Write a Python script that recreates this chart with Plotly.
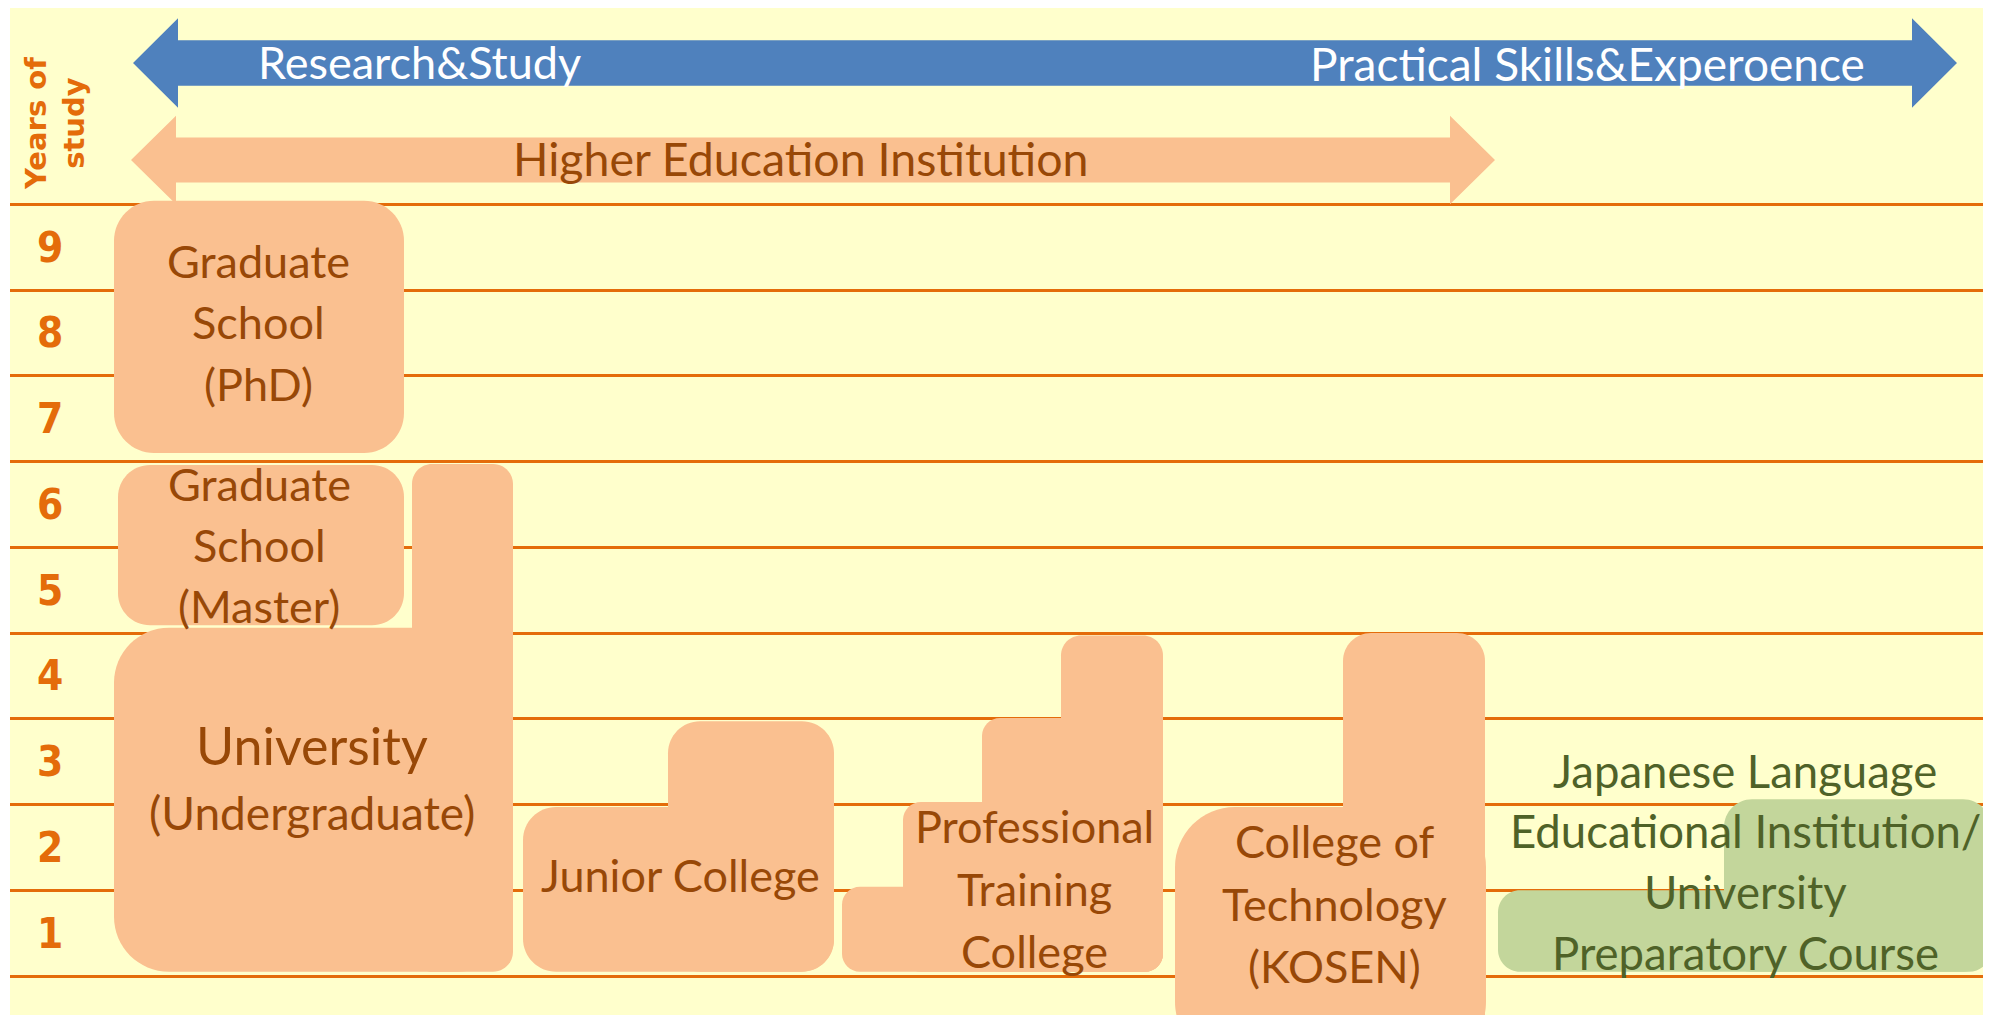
import plotly.graph_objects as go

# ---------------- data (years of study) ----------------
year_ticks = [1, 2, 3, 4, 5, 6, 7, 8, 9]
tick_labels = ["1", "2", "3", "4", "5", "6", "7", "8", "9"]
grid_years = [0, 1, 2, 3, 4, 5, 6, 7, 8, 9]

# blocks: (program, start year, end year)
block_program = ["PhD", "Master", "University", "University",
                 "Junior", "Junior",
                 "Professional", "Professional", "Professional", "Professional",
                 "KOSEN", "KOSEN",
                 "Japanese", "Japanese"]
block_start = [6.10, 4.09, 0.05, 0.05,
               0.05, 0.05,
               0.05, 0.05, 0.05, 0.05,
               -1.0, -1.0,
               0.05, 0.05]
block_end = [9.04, 5.96, 4.06, 5.97,
             1.97, 2.97,
             1.04, 2.03, 3.01, 3.97,
             1.97, 4.00,
             1.00, 2.06]

label_phd = ["Graduate", "School", "(PhD)"]
label_master = ["Graduate", "School", "(Master)"]
label_univ = ["University", "(Undergraduate)"]
label_junior = ["Junior College"]
label_prof = ["Professional", "Training", "College"]
label_kosen = ["College of", "Technology", "(KOSEN)"]
label_jp = ["Japanese Language", "Educational Institution/", "University", "Preparatory Course"]
arrow_labels = ["Research&Study", "Practical Skills&Experoence", "Higher Education Institution"]
axis_title = ["Years of", "study"]

# ---------------- layout / style ----------------
PAGE_W, PAGE_H = 1991, 1015
OFF = 8          # default body margin of the html page
W, H = PAGE_W - OFF, PAGE_H - OFF
PXY = 85.75      # pixels per year
BASE = 976.0     # page pixel row of year 0


def yr(px):
    return (BASE - px) / PXY


ORANGE_FILL = "#FAC090"
BROWN = "#984807"
LINE_OR = "#E46C0A"
BLUE = "#4F81BD"
GREEN = "#C3D69B"
GREEN_TXT = "#4F6228"
YELLOW = "#FFFFCC"
FONT = "Lato, 'Open Sans', sans-serif"

block_x = [(114, 404), (118, 404), (114, 513), (412, 513),
           (523, 834), (668, 834),
           (842, 1163), (903, 1163), (982, 1163), (1061, 1163),
           (1175, 1486), (1343, 1485),
           (1498, 1991), (1724, 1991)]
block_r = [40, 32, 55, 20,
           33, 32,
           18, 18, 18, 20,
           60, 28,
           22, 28]
fill_of = {"Japanese": GREEN}

K = 0.5523


def rrect(x0, x1, yb, yt, r):
    rx = r
    ry = r / PXY
    p = []
    p.append(f"M{x0 + rx},{yt}")
    p.append(f"L{x1 - rx},{yt}")
    p.append(f"C{x1 - rx + K * rx},{yt} {x1},{yt - ry + K * ry} {x1},{yt - ry}")
    p.append(f"L{x1},{yb + ry}")
    p.append(f"C{x1},{yb + ry - K * ry} {x1 - rx + K * rx},{yb} {x1 - rx},{yb}")
    p.append(f"L{x0 + rx},{yb}")
    p.append(f"C{x0 + rx - K * rx},{yb} {x0},{yb + ry - K * ry} {x0},{yb + ry}")
    p.append(f"L{x0},{yt - ry}")
    p.append(f"C{x0},{yt - ry + K * ry} {x0 + rx - K * rx},{yt} {x0 + rx},{yt}")
    p.append("Z")
    return " ".join(p)


def poly(pts):
    return "M" + " L".join(f"{x},{yr(y)}" for x, y in pts) + " Z"


shapes = []


def double_arrow(xl_tip, xl_base, xr_base, xr_tip, yc, half_body, half_head, color):
    pts = [(xl_tip, yc), (xl_base, yc - half_head), (xl_base, yc - half_body),
           (xr_base, yc - half_body), (xr_base, yc - half_head), (xr_tip, yc),
           (xr_base, yc + half_head), (xr_base, yc + half_body),
           (xl_base, yc + half_body), (xl_base, yc + half_head)]
    return dict(type="path", xref="x", yref="y", path=poly(pts),
                fillcolor=color, line=dict(width=0), layer="above")


shapes.append(double_arrow(133, 178, 1912, 1957, 63, 22.7, 44.7, BLUE))
shapes.append(double_arrow(131, 176, 1450, 1495, 160, 22.5, 44.2, ORANGE_FILL))

for prog, s, e, (x0, x1), r in zip(block_program, block_start, block_end, block_x, block_r):
    shapes.append(dict(type="path", xref="x", yref="y", path=rrect(x0, x1, s, e, r),
                       fillcolor=fill_of.get(prog, ORANGE_FILL), line=dict(width=0),
                       layer="above"))

annotations = []


def add_lines(lines, xc, ypx_list, size, color, family=FONT):
    for t, ypx in zip(lines, ypx_list):
        annotations.append(dict(x=xc, y=yr(ypx), xref="x", yref="y", text=t,
                                showarrow=False, xanchor="center", yanchor="middle",
                                font=dict(family=family, size=size, color=color)))


# arrow texts
add_lines([arrow_labels[0]], 419, [62], 45, "white")
add_lines([arrow_labels[1]], 1587, [63], 46, "white")
add_lines([arrow_labels[2]], 801, [158], 46.5, BROWN)

# block texts
add_lines(label_phd, 258, [261, 322, 384], 45, BROWN)
add_lines(label_master, 259, [484, 545, 606], 45, BROWN)
add_lines(label_univ[:1], 312, [745], 52, BROWN)
add_lines(label_univ[1:], 312, [812], 46, BROWN)
add_lines(label_junior, 680, [875], 45, BROWN)
add_lines(label_prof, 1034, [826, 889, 951], 45, BROWN)
add_lines(label_kosen, 1334, [841, 904, 966], 45, BROWN)
add_lines(label_jp, 1745, [770, 830, 891, 952], 45.5, GREEN_TXT)

# y tick labels (years) at row centres
for v, lab in zip(year_ticks, tick_labels):
    annotations.append(dict(x=50, y=v - 0.5, xref="x", yref="y", text=f"<b>{lab}</b>",
                            showarrow=False, xanchor="center", yanchor="middle",
                            font=dict(family="'Liberation Sans Narrow', 'DejaVu Sans Condensed', sans-serif",
                                      size=42, color=LINE_OR)))

# axis title
annotations.append(dict(x=55, y=yr(124), xref="x", yref="y",
                        text="<b>" + "<br>".join(axis_title) + "</b>",
                        textangle=-90, showarrow=False, xanchor="center", yanchor="middle",
                        font=dict(family="'DejaVu Sans', sans-serif", size=29, color=LINE_OR)))

fig = go.Figure()
fig.update_layout(
    width=W, height=H,
    margin=dict(l=2, r=0, t=0, b=0),
    paper_bgcolor="white", plot_bgcolor=YELLOW,
    showlegend=False,
    xaxis=dict(range=[10, PAGE_W], showgrid=False, zeroline=False, showticklabels=False,
               showline=False, ticks="", fixedrange=True),
    yaxis=dict(range=[yr(PAGE_H), yr(OFF)], tickvals=grid_years, showgrid=True,
               gridcolor=LINE_OR, gridwidth=3, zeroline=False, showticklabels=False,
               showline=False, ticks="", fixedrange=True),
    shapes=shapes, annotations=annotations,
)
fig.write_html("out.html")
